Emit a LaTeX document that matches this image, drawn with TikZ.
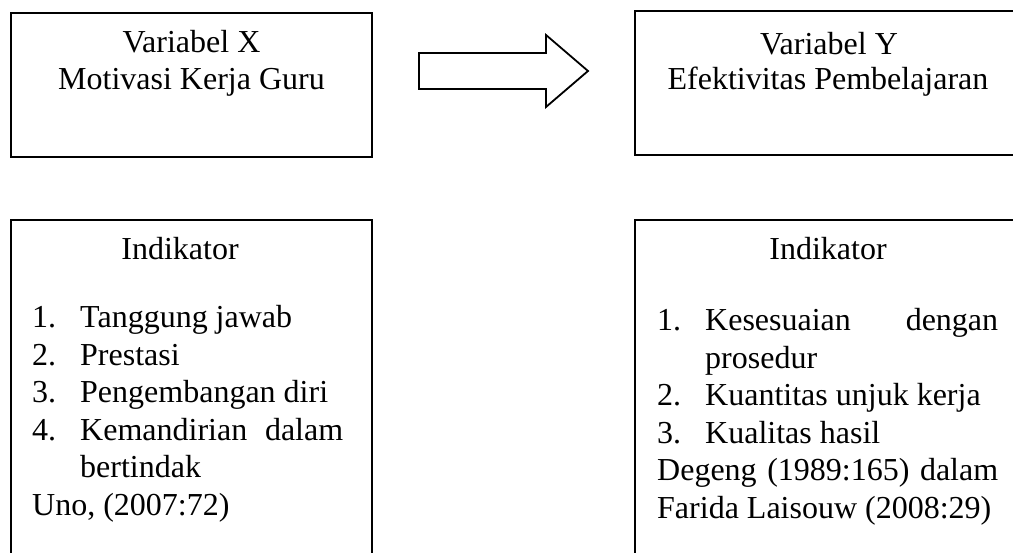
\documentclass[tikz,border=0pt]{standalone}
\usepackage{fontspec}
\setmainfont{Liberation Serif}
\usetikzlibrary{calc}
\begin{document}
\begin{tikzpicture}[x=1pt,y=-1pt,
  box/.style={draw=black, line width=1.7pt, fill=white, inner sep=0pt},
  txt/.style={inner sep=0pt, anchor=base, font=\fontsize{32}{37.5}\selectfont},
  blk/.style={inner sep=0pt, anchor=base west, font=\fontsize{32}{37.5}\selectfont},
  blockarrow/.style={draw=black, line width=1.8pt, fill=white, line join=miter}]
\useasboundingbox (0,0) rectangle (1013,553);
\clip (0,0) rectangle (1013,553);
% boxes
\node[box, minimum width=361pt, minimum height=144pt] (vx) at (191.5,85) {};
\node[box, minimum width=395pt, minimum height=144pt] (vy) at (832.5,83) {};
\node[box, minimum width=361pt, minimum height=380pt] (ix) at (191.5,410) {};
\node[box, minimum width=395pt, minimum height=380pt] (iy) at (832.5,410) {};
% block arrow
\coordinate (as) at (419,71);
\coordinate (at) at (588,71);
\draw[blockarrow] ($(as)+(0,-18)$) -- ($(at)+(-42,-18)$) -- ($(at)+(-42,-36)$) -- (at)
  -- ($(at)+(-42,36)$) -- ($(at)+(-42,18)$) -- ($(as)+(0,18)$) -- cycle;
% top texts
\node[txt] (vxa) at (191.5,53) {Variabel X};
\node[txt] (vxb) at (191.5,90) {Motivasi Kerja Guru};
\node[txt] (vya) at (829,55) {Variabel Y};
\node[txt] (vyb) at (828,90) {Efektivitas Pembelajaran};
% indikator titles
\node[txt] (ixt) at (180,260) {Indikator};
\node[txt] (iyt) at (828,260) {Indikator};
% lists
\node[blk] (ixl) at (32,328) {\parbox[t]{311pt}{%
\makebox[48pt][l]{1.}Tanggung jawab\\
\makebox[48pt][l]{2.}Prestasi\\
\makebox[48pt][l]{3.}Pengembangan diri\\
\makebox[311pt][l]{\makebox[48pt][l]{4.}Kemandirian\hfill dalam}\\
\hspace*{48pt}bertindak\\
Uno, (2007:72)}};
\node[blk] (iyl) at (657,331) {\parbox[t]{341pt}{%
\makebox[341pt][l]{\makebox[48pt][l]{1.}Kesesuaian\hfill dengan}\\
\hspace*{48pt}prosedur\\
\makebox[48pt][l]{2.}Kuantitas unjuk kerja\\
\makebox[48pt][l]{3.}Kualitas hasil\\
\makebox[341pt][l]{Degeng\hfill (1989:165)\hfill dalam}\\
Farida Laisouw (2008:29)}};
\end{tikzpicture}
\end{document}
